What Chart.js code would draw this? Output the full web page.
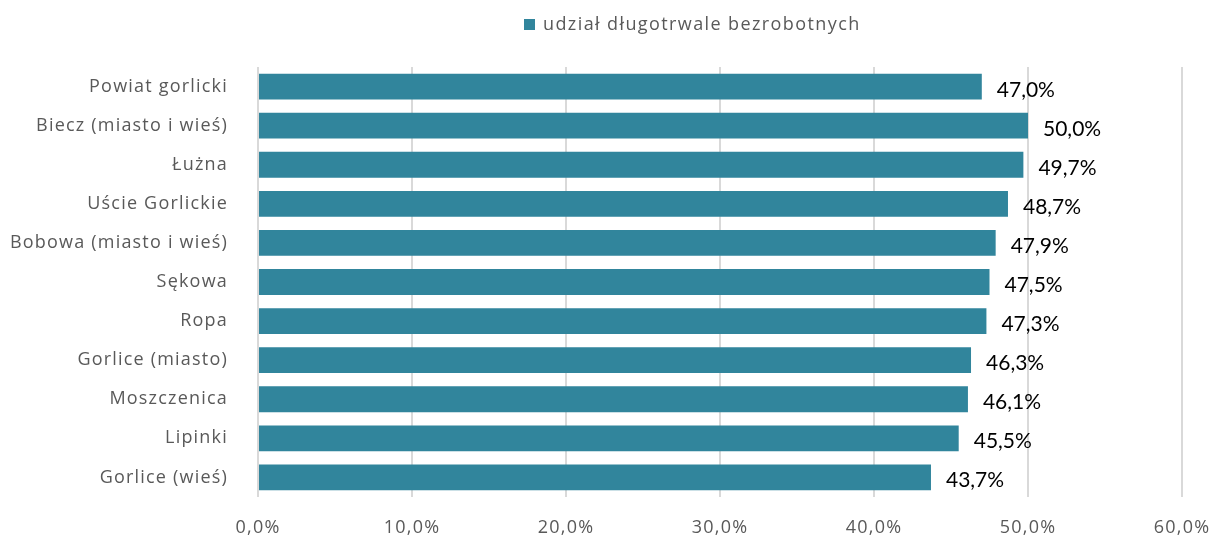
<!DOCTYPE html>
<html>
<head>
<meta charset="utf-8">
<script src="https://cdn.jsdelivr.net/npm/chart.js@4/dist/chart.umd.min.js"></script>
<style>
  html, body { margin: 0; padding: 0; background: #fff; }
  #wrap { width: 1215px; height: 539px; }
</style>
</head>
<body>
<div id="wrap"><canvas id="chart" width="1215" height="539"></canvas></div>
<script>
const categories = [
  "Powiat gorlicki",
  "Biecz (miasto i wieś)",
  "Łużna",
  "Uście Gorlickie",
  "Bobowa (miasto i wieś)",
  "Sękowa",
  "Ropa",
  "Gorlice (miasto)",
  "Moszczenica",
  "Lipinki",
  "Gorlice (wieś)"
];
const seriesLabel = "udział długotrwale bezrobotnych";
const shareValues = [47.0, 50.0, 49.7, 48.7, 47.9, 47.5, 47.3, 46.3, 46.1, 45.5, 43.7];
const axisMax = 60;
const axisStep = 10;

const barColor = "#31859c";
const fontName = "'Open Sans', Lato, sans-serif";
const labelFont = "Lato, 'Open Sans', sans-serif";
const textSpacing = "1.2px"; // the original font renders quite wide

function formatPercent(value) {
  return Number(value).toFixed(1).replace(".", ",") + "%";
}

// widen axis text (measured and drawn with the same spacing)
const wideText = {
  id: "wideText",
  beforeLayout(chart) {
    chart.ctx.letterSpacing = textSpacing;
  },
  beforeDraw(chart) {
    chart.ctx.letterSpacing = textSpacing;
  }
};

// value labels at the end of each bar
const valueLabels = {
  id: "valueLabels",
  afterDatasetsDraw(chart) {
    const ctx = chart.ctx;
    const meta = chart.getDatasetMeta(0);
    ctx.save();
    ctx.letterSpacing = "0px";
    ctx.font = "21px " + labelFont;
    ctx.fillStyle = "#000000";
    ctx.textAlign = "left";
    ctx.textBaseline = "alphabetic";
    meta.data.forEach((bar, i) => {
      ctx.fillText(formatPercent(shareValues[i]), bar.x + 15, bar.y + 10);
    });
    ctx.restore();
  }
};

// legend drawn by hand so it can sit where the original has it
const topLegend = {
  id: "topLegend",
  afterDraw(chart) {
    const ctx = chart.ctx;
    const dataset = chart.data.datasets[0];
    ctx.save();
    ctx.fillStyle = dataset.backgroundColor;
    ctx.fillRect(524, 19, 11, 11);
    ctx.letterSpacing = "1.4px";
    ctx.font = "18px " + fontName;
    ctx.fillStyle = "#595959";
    ctx.textAlign = "left";
    ctx.textBaseline = "alphabetic";
    ctx.fillText(dataset.label, 543, 29.5);
    ctx.restore();
  }
};

new Chart(document.getElementById("chart"), {
  type: "bar",
  data: {
    labels: categories,
    datasets: [
      {
        label: seriesLabel,
        data: shareValues,
        backgroundColor: barColor,
        borderWidth: 0,
        barPercentage: 0.66,
        categoryPercentage: 1
      }
    ]
  },
  options: {
    indexAxis: "y",
    responsive: false,
    animation: false,
    layout: {
      padding: { top: 67, right: 33, bottom: 0, left: 0 }
    },
    plugins: {
      legend: { display: false },
      tooltip: { enabled: false }
    },
    scales: {
      x: {
        min: 0,
        max: axisMax,
        ticks: {
          stepSize: axisStep,
          padding: 20,
          color: "#595959",
          font: { family: fontName, size: 18 },
          callback: (value) => formatPercent(value)
        },
        grid: {
          color: "#d9d9d9",
          lineWidth: 2,
          drawTicks: false
        },
        border: { display: false },
        afterFit(scale) {
          scale.height = 42;
          scale.paddingLeft = 0;
          scale.paddingRight = 0;
        }
      },
      y: {
        ticks: {
          padding: 22,
          color: "#595959",
          font: { family: fontName, size: 18 }
        },
        grid: { display: false },
        border: { display: false },
        afterFit(scale) {
          scale.width = 258;
        }
      }
    }
  },
  plugins: [wideText, valueLabels, topLegend]
});
</script>
</body>
</html>
